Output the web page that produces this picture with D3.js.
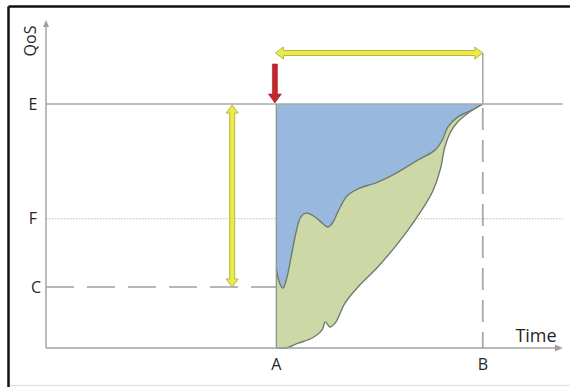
<!DOCTYPE html>
<html>
<head>
<meta charset="utf-8">
<script src="https://cdn.jsdelivr.net/npm/d3@7/dist/d3.min.js"></script>
<style>
html,body{margin:0;padding:0;background:#fff;}
svg{display:block;}
text{font-family:"Open Sans","DejaVu Sans",sans-serif;fill:#262626;}
</style>
</head>
<body>
<svg id="chart" width="570" height="387"></svg>
<script>
// ---- data ----
const levelLabels = ["E", "F", "C"];
const levelValues = [100, 53, 25];
const timeLabels = ["A", "B"];
const timeValues = [44.3, 84.0];

// boundary between blue (lost QoS) and green region
const upperT = [44.3, 45.0, 45.6, 46.3, 47.1, 48.1, 49.0, 50.0, 51.2, 52.7, 54.2, 55.2, 56.2, 57.9, 60.0, 63.8, 67.7, 71.5, 74.8, 76.2, 77.3, 79.2, 81.9, 84.0];
const upperV = [32.5, 26.2, 24.6, 28.7, 36.9, 47.5, 53.7, 55.3, 54.5, 52.0, 49.6, 51.6, 56.1, 62.3, 65.2, 68.0, 72.1, 77.0, 81.1, 85.2, 90.6, 94.7, 97.5, 100];
// lower boundary of green region
const lowerT = [44.3, 46.0, 48.5, 51.2, 53.1, 53.7, 54.6, 55.6, 57.5, 60.0, 63.8, 67.7, 71.0, 74.2, 75.8, 76.7, 77.7, 79.0, 81.2, 84.0];
const lowerV = [0, 0, 2.0, 4.1, 7.4, 10.7, 8.6, 10.2, 18.4, 25.0, 33.2, 43.0, 52.5, 63.5, 73.0, 82.4, 88.1, 92.2, 96.3, 100];

// annotation positions (data units)
const spanArrowV = 120.9;     // horizontal double arrow level
const dropArrowT = 35.8;      // vertical double arrow time
const redArrowTop = 116.4;    // red arrow start level
const axisTopV = 134.4;
const axisEndT = 99.4;

// ---- scales ----
const svg = d3.select("#chart");
const x = d3.scaleLinear().domain([0, 100]).range([46, 566]);
const y = d3.scaleLinear().domain([0, 100]).range([348, 104]);

// frame
svg.append("line").attr("x1", 8.5).attr("x2", 570).attr("y1", 6.5).attr("y2", 6.5).attr("stroke", "#111").attr("stroke-width", 2.5);
svg.append("line").attr("x1", 8.5).attr("x2", 8.5).attr("y1", 6.5).attr("y2", 387).attr("stroke", "#111").attr("stroke-width", 2.5);
svg.append("line").attr("x1", 10).attr("x2", 570).attr("y1", 385.5).attr("y2", 385.5).attr("stroke", "#e4e4e4").attr("stroke-width", 1.5);

const upper = upperT.map((t, i) => [t, upperV[i]]);
const lower = lowerT.map((t, i) => [t, lowerV[i]]);
const line = d3.line().x(d => x(d[0])).y(d => y(d[1])).curve(d3.curveCatmullRom.alpha(0.5));

const A = timeValues[0], B = timeValues[1], E = levelValues[0];

// F dotted reference line
svg.append("line").attr("x1", x(0)).attr("x2", x(axisEndT)).attr("y1", y(levelValues[1])).attr("y2", y(levelValues[1]))
  .attr("stroke", "#c8c8c8").attr("stroke-width", 1.2).attr("stroke-dasharray", "1.5,1.5");

// blue region
const bluePath = line(upper) + "L" + x(A) + "," + y(E) + "Z";
svg.append("path").attr("d", bluePath).attr("fill", "#98b8de");
// green region
const lowerRev = lower.slice().reverse();
const greenPath = line(upper) + "L" + line(lowerRev).slice(1) + "Z";
svg.append("path").attr("d", greenPath).attr("fill", "#ccd9a6");

// curve strokes
svg.append("path").attr("d", line(upper)).attr("fill", "none").attr("stroke", "#6f7b72").attr("stroke-width", 1.4);
svg.append("path").attr("d", line(lower)).attr("fill", "none").attr("stroke", "#6f7b72").attr("stroke-width", 1.4);

// E line
svg.append("line").attr("x1", x(0)).attr("x2", x(axisEndT)).attr("y1", y(E)).attr("y2", y(E))
  .attr("stroke", "#a9a9a9").attr("stroke-width", 1.6);
// C dashed line
svg.append("line").attr("x1", x(0)).attr("x2", x(A)).attr("y1", y(levelValues[2])).attr("y2", y(levelValues[2]))
  .attr("stroke", "#a0a0a0").attr("stroke-width", 1.4).attr("stroke-dasharray", "28,13");
// A vertical
svg.append("line").attr("x1", x(A)).attr("x2", x(A)).attr("y1", y(E)).attr("y2", y(0))
  .attr("stroke", "#8f9a93").attr("stroke-width", 1.4);
// B vertical: solid above E, dashed below
svg.append("line").attr("x1", x(B)).attr("x2", x(B)).attr("y1", y(spanArrowV)).attr("y2", y(E))
  .attr("stroke", "#a9a9a9").attr("stroke-width", 1.6);
svg.append("line").attr("x1", x(B)).attr("x2", x(B)).attr("y1", y(E) + 4).attr("y2", y(0))
  .attr("stroke", "#a9a9a9").attr("stroke-width", 1.8).attr("stroke-dasharray", "22,10");

// axes
svg.append("line").attr("x1", x(0)).attr("x2", x(0)).attr("y1", y(0)).attr("y2", y(axisTopV) + 4)
  .attr("stroke", "#a0a0a0").attr("stroke-width", 1.4);
svg.append("line").attr("x1", x(0)).attr("x2", x(axisEndT) - 4).attr("y1", y(0)).attr("y2", y(0))
  .attr("stroke", "#a0a0a0").attr("stroke-width", 1.6);
svg.append("path").attr("d", `M${x(0)},${y(axisTopV)} l-3,7 l6,0 Z`).attr("fill", "#a0a0a0");
svg.append("path").attr("d", `M${x(axisEndT)},${y(0)} l-8,-3.5 l0,7 Z`).attr("fill", "#a0a0a0");

// block arrow helper (pixel coords), double or single headed
function blockArrow(x1, y1, x2, y2, shaft, headW, headL, both) {
  const dx = x2 - x1, dy = y2 - y1, L = Math.hypot(dx, dy);
  const ux = dx / L, uy = dy / L, nx = -uy, ny = ux;
  const P = (s, w) => [x1 + ux * s + nx * w, y1 + uy * s + ny * w];
  const s0 = both ? headL : 0, s1 = L - headL;
  const pts = [];
  if (both) { pts.push(P(0, 0), P(s0, headW / 2), P(s0, shaft / 2)); }
  else { pts.push(P(0, shaft / 2)); }
  pts.push(P(s1, shaft / 2), P(s1, headW / 2), P(L, 0), P(s1, -headW / 2), P(s1, -shaft / 2));
  if (both) { pts.push(P(s0, -shaft / 2), P(s0, -headW / 2)); }
  else { pts.push(P(0, -shaft / 2)); }
  return "M" + pts.map(p => p[0].toFixed(1) + "," + p[1].toFixed(1)).join("L") + "Z";
}

// yellow horizontal span arrow A–B
svg.append("path").attr("d", blockArrow(x(A) - 1, y(spanArrowV), x(B), y(spanArrowV), 5, 12, 8, true))
  .attr("fill", "#e9ea4c").attr("stroke", "#b8b63c").attr("stroke-width", 1);
// yellow vertical arrow E–C
svg.append("path").attr("d", blockArrow(x(dropArrowT), y(E) + 1, x(dropArrowT), y(levelValues[2]), 5, 12, 8, true))
  .attr("fill", "#e9ea4c").attr("stroke", "#b8b63c").attr("stroke-width", 1);
// red arrow
svg.append("path").attr("d", blockArrow(x(A) - 1.5, y(redArrowTop), x(A) - 1.5, y(E) - 1, 5, 13, 9, false))
  .attr("fill", "#c3262c").attr("stroke", "#a51e23").attr("stroke-width", 0.6);

// level labels
levelLabels.forEach((lab, i) => {
  svg.append("text").attr("x", lab === "C" ? 36 : 33).attr("y", y(levelValues[i]))
    .attr("dy", "0.36em").attr("text-anchor", "middle").attr("font-size", 16).text(lab);
});
// time labels
timeLabels.forEach((lab, i) => {
  svg.append("text").attr("x", x(timeValues[i])).attr("y", 370)
    .attr("text-anchor", "middle").attr("font-size", 16).text(lab);
});
// axis titles
svg.append("text").attr("x", 536).attr("y", 342).attr("text-anchor", "middle").attr("font-size", 18).text("Time");
svg.append("text").attr("transform", "translate(36,41) rotate(-90)").attr("text-anchor", "middle")
  .attr("font-size", 16).text("QoS");
</script>
</body>
</html>
